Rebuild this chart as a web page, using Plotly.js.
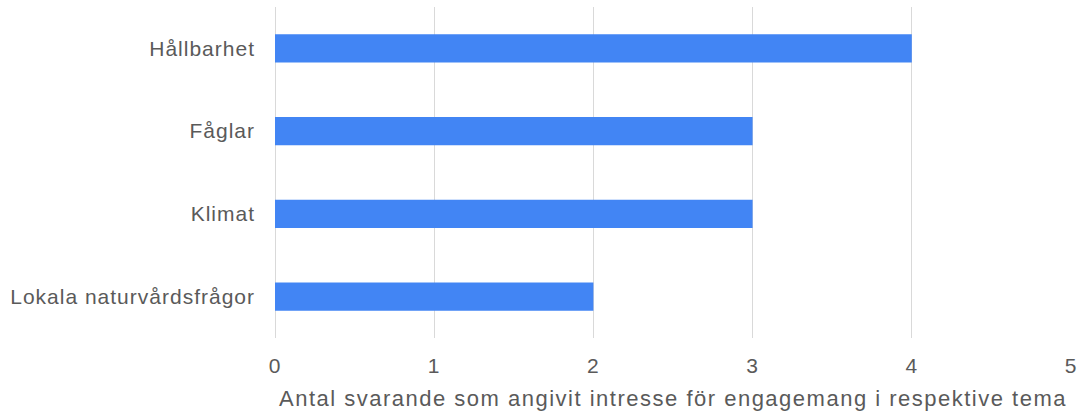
<!DOCTYPE html>
<html>
<head>
<meta charset="utf-8">
<script src="https://cdn.plot.ly/plotly-3.0.1.min.js"></script>
<style>
html,body{margin:0;padding:0;background:#fff;}
#chart{width:1079px;height:412px;}
#chart .ytick text, #chart .xtick text {letter-spacing:1px;}
#chart .g-xtitle text {letter-spacing:1.5px;}
</style>
</head>
<body>
<div id="chart"></div>
<script>
const categories = ["Hållbarhet", "Fåglar", "Klimat", "Lokala naturvårdsfrågor"];
const values = [4, 3, 3, 2];
const xTicks = [0, 1, 2, 3, 4, 5];
const xTitle = "Antal svarande som angivit intresse för engagemang i respektive tema";

Plotly.newPlot("chart", [{
  type: "bar",
  orientation: "h",
  y: categories,
  x: values,
  marker: {color: "#4285F4"},
  hoverinfo: "x+y"
}], {
  width: 1079,
  height: 412,
  margin: {l: 275, r: 8, t: 7, b: 74},
  paper_bgcolor: "#fff",
  plot_bgcolor: "#fff",
  bargap: 0.66,
  font: {family: "'Liberation Sans', Arial, sans-serif", size: 21, color: "#5a5a5a"},
  xaxis: {
    range: [0, 5],
    tickvals: xTicks,
    ticktext: xTicks.map(String),
    showgrid: true,
    gridcolor: "#d9d9d9",
    gridwidth: 1,
    zeroline: true,
    zerolinecolor: "#d9d9d9",
    showline: false,
    ticks: "",
    ticklabelstandoff: 13,
    tickfont: {size: 21, color: "#5a5a5a"},
    title: {text: xTitle, font: {size: 22, color: "#5a5a5a"}, standoff: 14},
    fixedrange: true
  },
  yaxis: {
    autorange: "reversed",
    categoryorder: "array",
    categoryarray: categories,
    showgrid: false,
    zeroline: false,
    showline: false,
    ticks: "",
    ticklabelstandoff: 19,
    tickfont: {size: 21, color: "#5a5a5a"},
    fixedrange: true
  },
  showlegend: false
}, {displayModeBar: false, staticPlot: true});
</script>
</body>
</html>
